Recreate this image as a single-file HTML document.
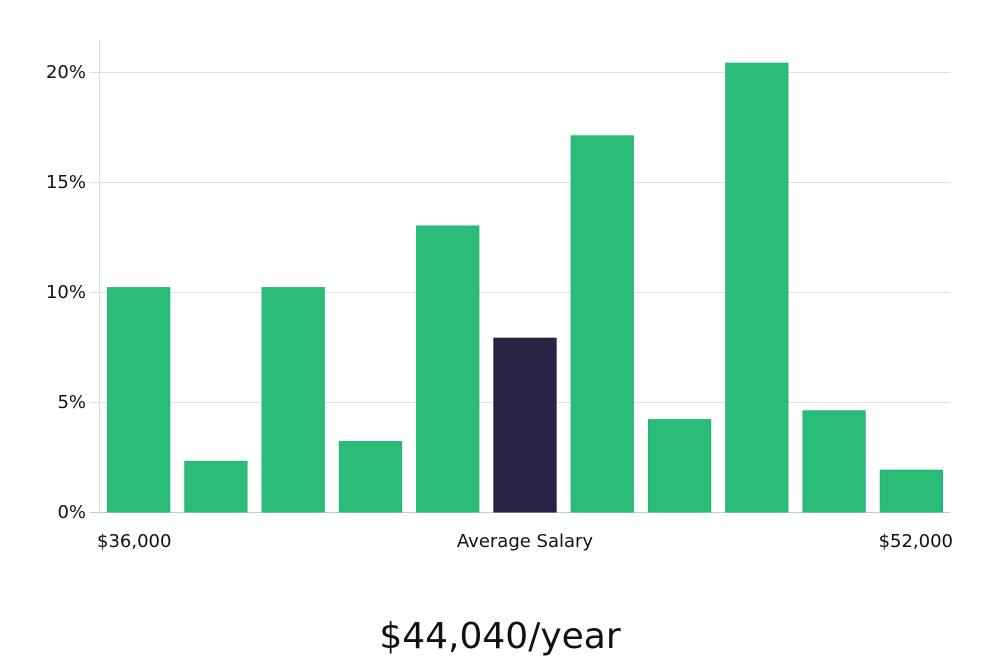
<!DOCTYPE html>
<html><head><meta charset="utf-8"><style>
body{margin:0;background:#fff;width:1000px;height:660px;overflow:hidden;font-family:"DejaVu Sans","Liberation Sans",sans-serif}
svg text{font-family:"DejaVu Sans","Liberation Sans",sans-serif}
</style></head><body>
<svg id="chart" width="1000" height="660" xmlns="http://www.w3.org/2000/svg">
<g id="grid"></g>
<g id="bars"></g>
<g id="ylabels"></g>
<line x1="99.5" y1="40" x2="99.5" y2="512" stroke="#dddddd"/>
<text x="97" y="547" font-size="18" fill="#111">$36,000</text>
<text x="525" y="547" font-size="18" fill="#111" text-anchor="middle">Average Salary</text>
<text x="953" y="547" font-size="18" fill="#111" text-anchor="end">$52,000</text>
<text x="500" y="648" font-size="36" fill="#111" text-anchor="middle" font-family="Liberation Sans, sans-serif">$44,040/year</text>
</svg>
<script>
const values=[10.2,2.3,10.2,3.2,13.0,7.9,17.1,4.2,20.4,4.6,1.9];
const highlightIndex=5;
const yTicks=[0,5,10,15,20];
const yTickLabels=["0%","5%","10%","15%","20%"];
const NS="http://www.w3.org/2000/svg";
const x0=100,x1=950,yBase=512,yTop=72,yMaxVal=20;
function yScale(v){return yBase-(v/yMaxVal)*(yBase-yTop);}
const slot=(x1-x0)/values.length;
function xScale(i){return x0+i*slot;}
const grid=document.getElementById('grid'),yl=document.getElementById('ylabels'),bars=document.getElementById('bars');
yTicks.forEach((t,i)=>{
const y=yScale(t);
const l=document.createElementNS(NS,'line');


l.setAttribute('x1',x0-10);l.setAttribute('x2',x1);l.setAttribute('y1',y+0.5);l.setAttribute('y2',y+0.5);
l.setAttribute('stroke',t===0?'#cccccc':'#e0e0e0');
grid.appendChild(l);
const tx=document.createElementNS(NS,'text');


tx.setAttribute('x',86);tx.setAttribute('y',y+6);tx.setAttribute('text-anchor','end');
tx.setAttribute('font-size','18');tx.setAttribute('fill','#111');
tx.textContent=yTickLabels[i];
yl.appendChild(tx);
});
values.forEach((v,i)=>{
const r=document.createElementNS(NS,'rect');


const y=yScale(v);
r.setAttribute('x',xScale(i)+7.5);r.setAttribute('width',slot-15);
r.setAttribute('y',y);r.setAttribute('height',yBase-y);
r.setAttribute('fill',i===highlightIndex?'#272446':'#2abd77');
r.setAttribute('stroke',i===highlightIndex?'#1d1a3a':'#22b56e');
bars.appendChild(r);
});
</script>
</body></html>
